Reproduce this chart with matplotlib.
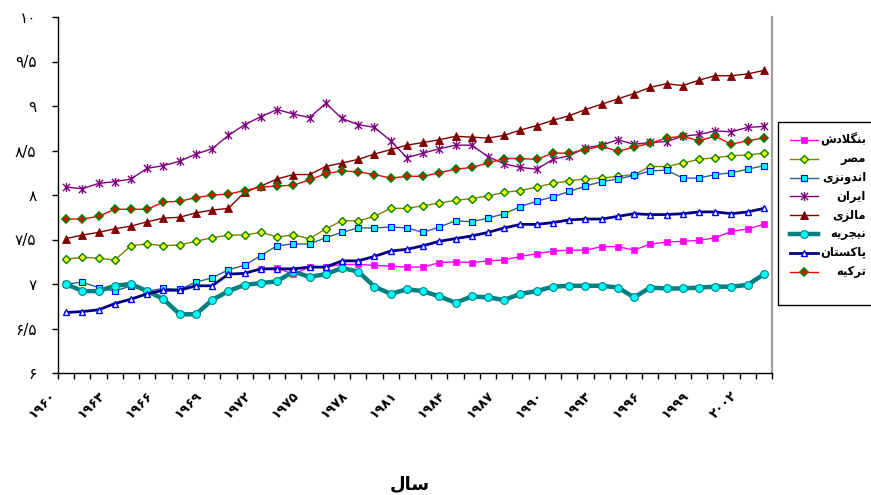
import numpy as np
import matplotlib
matplotlib.use("Agg")
import matplotlib.pyplot as plt
import matplotlib.transforms as mtransforms
from matplotlib.path import Path
from matplotlib.markers import MarkerStyle
from matplotlib.lines import Line2D
from matplotlib.patches import Rectangle
from matplotlib.ticker import FuncFormatter, FixedLocator

# ---------------------------------------------------------------- data
years = list(range(1960, 2004))
label_years = list(range(1960, 2004, 3))

bangladesh = [np.nan] * 12 + [
    7.17, 7.18, 7.11, 7.19, 7.19, 7.22, 7.22, 7.21, 7.20, 7.19,
    7.19, 7.24, 7.25, 7.24, 7.26, 7.27, 7.31, 7.34, 7.37, 7.38,
    7.38, 7.42, 7.42, 7.38, 7.45, 7.47, 7.48, 7.49, 7.52, 7.59,
    7.62, 7.67]
egypt = [
    7.28, 7.30, 7.29, 7.27, 7.43, 7.45, 7.43, 7.44, 7.48, 7.52,
    7.55, 7.55, 7.58, 7.53, 7.55, 7.51, 7.62, 7.71, 7.71, 7.76,
    7.85, 7.85, 7.88, 7.91, 7.94, 7.96, 7.99, 8.03, 8.05, 8.09,
    8.13, 8.16, 8.18, 8.19, 8.21, 8.23, 8.32, 8.32, 8.36, 8.40,
    8.42, 8.44, 8.45, 8.47]
indonesia = [
    7.00, 7.02, 6.96, 6.92, 6.98, 6.92, 6.95, 6.94, 7.02, 7.07,
    7.16, 7.21, 7.32, 7.43, 7.45, 7.45, 7.52, 7.58, 7.63, 7.63,
    7.64, 7.63, 7.58, 7.64, 7.71, 7.70, 7.74, 7.79, 7.87, 7.93,
    7.98, 8.04, 8.10, 8.15, 8.18, 8.22, 8.27, 8.28, 8.19, 8.19,
    8.23, 8.25, 8.29, 8.33]
iran = [
    8.09, 8.07, 8.13, 8.15, 8.18, 8.30, 8.33, 8.38, 8.46, 8.52,
    8.67, 8.79, 8.88, 8.96, 8.91, 8.87, 9.03, 8.86, 8.79, 8.76,
    8.61, 8.42, 8.47, 8.52, 8.56, 8.56, 8.43, 8.35, 8.31, 8.29,
    8.40, 8.44, 8.53, 8.56, 8.62, 8.57, 8.59, 8.60, 8.66, 8.68,
    8.72, 8.71, 8.76, 8.77]
malaysia = [
    7.51, 7.55, 7.58, 7.62, 7.65, 7.70, 7.74, 7.75, 7.80, 7.83,
    7.85, 8.03, 8.10, 8.18, 8.23, 8.23, 8.32, 8.36, 8.40, 8.46,
    8.51, 8.56, 8.59, 8.62, 8.66, 8.65, 8.64, 8.67, 8.73, 8.78,
    8.84, 8.89, 8.96, 9.02, 9.08, 9.14, 9.21, 9.25, 9.23, 9.29,
    9.34, 9.34, 9.36, 9.40]
nigeria = [
    7.00, 6.92, 6.92, 6.98, 7.00, 6.92, 6.83, 6.66, 6.66, 6.82,
    6.92, 6.99, 7.01, 7.03, 7.14, 7.08, 7.11, 7.18, 7.14, 6.97,
    6.89, 6.94, 6.92, 6.86, 6.79, 6.86, 6.85, 6.82, 6.89, 6.92,
    6.97, 6.98, 6.98, 6.98, 6.96, 6.85, 6.96, 6.95, 6.95, 6.96,
    6.97, 6.97, 6.99, 7.11]
pakistan = [
    6.68, 6.69, 6.71, 6.78, 6.83, 6.89, 6.93, 6.93, 6.98, 6.98,
    7.11, 7.12, 7.17, 7.17, 7.17, 7.19, 7.19, 7.26, 7.26, 7.31,
    7.37, 7.39, 7.43, 7.48, 7.51, 7.54, 7.58, 7.63, 7.67, 7.67,
    7.69, 7.72, 7.73, 7.73, 7.76, 7.79, 7.78, 7.78, 7.79, 7.81,
    7.81, 7.79, 7.81, 7.85]
turkey = [
    7.73, 7.73, 7.76, 7.84, 7.84, 7.84, 7.92, 7.93, 7.97, 8.00,
    8.01, 8.05, 8.09, 8.10, 8.11, 8.17, 8.24, 8.27, 8.26, 8.23,
    8.19, 8.21, 8.21, 8.25, 8.29, 8.31, 8.36, 8.41, 8.41, 8.40,
    8.47, 8.47, 8.51, 8.55, 8.49, 8.54, 8.58, 8.64, 8.66, 8.61,
    8.66, 8.57, 8.61, 8.64]

country_names = ["بنگلادش", "مصر", "اندونزی", "ایران",
                 "مالزی", "نیجریه", "پاکستان", "ترکیه"]
x_title = "سال"
y_ticks = [6, 6.5, 7, 7.5, 8, 8.5, 9, 9.5, 10]

# ------------------------------------------------- Persian text helpers
_FORMS = {  # isolated, final, initial, medial
    "ا": ("\uFE8D", "\uFE8E", None, None),
    "ب": ("\uFE8F", "\uFE90", "\uFE91", "\uFE92"),
    "پ": ("\uFB56", "\uFB57", "\uFB58", "\uFB59"),
    "ت": ("\uFE95", "\uFE96", "\uFE97", "\uFE98"),
    "ج": ("\uFE9D", "\uFE9E", "\uFE9F", "\uFEA0"),
    "د": ("\uFEA9", "\uFEAA", None, None),
    "ر": ("\uFEAD", "\uFEAE", None, None),
    "ز": ("\uFEAF", "\uFEB0", None, None),
    "س": ("\uFEB1", "\uFEB2", "\uFEB3", "\uFEB4"),
    "ش": ("\uFEB5", "\uFEB6", "\uFEB7", "\uFEB8"),
    "ص": ("\uFEB9", "\uFEBA", "\uFEBB", "\uFEBC"),
    "ک": ("\uFB8E", "\uFB8F", "\uFB90", "\uFB91"),
    "گ": ("\uFB92", "\uFB93", "\uFB94", "\uFB95"),
    "ل": ("\uFEDD", "\uFEDE", "\uFEDF", "\uFEE0"),
    "م": ("\uFEE1", "\uFEE2", "\uFEE3", "\uFEE4"),
    "ن": ("\uFEE5", "\uFEE6", "\uFEE7", "\uFEE8"),
    "ه": ("\uFEE9", "\uFEEA", "\uFEEB", "\uFEEC"),
    "و": ("\uFEED", "\uFEEE", None, None),
    "ی": ("\uFBFC", "\uFBFD", "\uFBFE", "\uFBFF"),
    "\u0001": ("\uFEFB", "\uFEFC", None, None),  # lam-alef
}


def shape(word):
    """Contextual Persian shaping, returned in visual (left-to-right) order."""
    s = word.replace("لا", "\u0001")
    out = []
    for k, ch in enumerate(s):
        forms = _FORMS.get(ch)
        if forms is None:
            out.append(ch)
            continue
        prev = s[k - 1] if k > 0 else None
        nxt = s[k + 1] if k + 1 < len(s) else None
        join_prev = prev in _FORMS and _FORMS[prev][2] is not None
        join_next = forms[2] is not None and nxt in _FORMS
        if join_prev and join_next:
            out.append(forms[3])
        elif join_prev:
            out.append(forms[1])
        elif join_next:
            out.append(forms[2])
        else:
            out.append(forms[0])
    return "".join(reversed(out))


_DIGITS = str.maketrans("0123456789.", "۰۱۲۳۴۵۶۷۸۹/")


def fa_num(v):
    return ("%g" % v).translate(_DIGITS)


plt.rcParams["font.family"] = ["DejaVu Sans"]

# ---------------------------------------------------------------- figure
W, H = 871, 495
fig = plt.figure(figsize=(W / 100, H / 100), dpi=100)
ax = fig.add_axes([58 / W, 122 / H, 714 / W, 356 / H])

x = np.arange(len(years))

asterisk = Path([(-1, -1), (1, 1), (-1, 1), (1, -1), (0, -1.25), (0, 1.25)],
                [Path.MOVETO, Path.LINETO] * 3)

lines = [
    dict(color="#FF00FF", lw=1.0),
    dict(color="#808000", lw=1.0),
    dict(color="#2A5F8F", lw=1.0),
    dict(color="#800080", lw=1.0),
    dict(color="#800000", lw=1.0),
    dict(color="#008080", lw=3.2),
    dict(color="#000080", lw=2.0),
    dict(color="#FF0000", lw=1.0),
]
marks = [
    dict(marker="s", ms=4.8, mfc="#FF00FF", mec="#FF00FF", mew=0.5),
    dict(marker="D", ms=3.6, mfc="#FFFF00", mec="#008000", mew=1.0),
    dict(marker="s", ms=4.0, mfc="#00FFFF", mec="#0000FF", mew=0.8),
    dict(marker=MarkerStyle(asterisk), ms=6.5, mfc="none", mec="#800080", mew=1.0),
    dict(marker="^", ms=5.2, mfc="#800000", mec="#800000", mew=0.6),
    dict(marker="o", ms=5.6, mfc="#00FFFF", mec="#008080", mew=0.8),
    dict(marker="^", ms=4.6, mfc="white", mec="#0000FF", mew=1.0),
    dict(marker="D", ms=4.0, mfc="#FF0000", mec="#008000", mew=1.2),
]
series = [bangladesh, egypt, indonesia, iran, malaysia, nigeria, pakistan, turkey]

for vals, ln, mk in zip(series, lines, marks):
    ax.plot(x, vals, **ln, **mk, clip_on=False)

# axes, ticks and spines
ax.set_xlim(-0.5, len(years) - 0.5)
ax.set_ylim(6, 10)
ax.spines["top"].set_visible(False)
ax.spines["right"].set_color("#A0A0A0")
ax.spines["right"].set_linewidth(1.6)
for side in ("left", "bottom"):
    ax.spines[side].set_color("black")
    ax.spines[side].set_linewidth(1.0)

ax.yaxis.set_major_locator(FixedLocator(y_ticks))
ax.yaxis.set_major_formatter(FuncFormatter(lambda v, p: fa_num(v)))
ax.tick_params(axis="y", direction="out", length=4, width=1, pad=11.5,
               labelsize=11, colors="black")
ax.xaxis.set_major_locator(FixedLocator(np.arange(-0.5, len(years), 1)))
ax.tick_params(axis="x", direction="out", length=4, width=1, labelbottom=False)

# rotated year labels under the category axis
base = mtransforms.blended_transform_factory(ax.transData, ax.transAxes)
shift = mtransforms.ScaledTranslation(-24 / 100, -32 / 100, fig.dpi_scale_trans)
for yr in label_years:
    ax.text(years.index(yr), 0, fa_num(yr), transform=base + shift,
            rotation=45, rotation_mode="anchor", ha="center", va="center",
            fontsize=9.5, fontweight="bold", clip_on=False)

fig.text(410 / W, 1 - 484 / H, shape(x_title), ha="center", va="center",
         fontsize=13, fontweight="bold")

# legend box on the right
fig.patches.append(Rectangle((778 / W, 1 - 305 / H), 100 / W, 183 / H,
                             transform=fig.transFigure, fill=True,
                             facecolor="white", edgecolor="black", lw=1.0))
for k, (name, ln, mk) in enumerate(zip(country_names, lines, marks)):
    yy = 1 - (140 + 18.8 * k) / H
    fig.lines.append(Line2D([790 / W, 818 / W], [yy, yy],
                            transform=fig.transFigure, **ln))
    fig.lines.append(Line2D([804 / W], [yy], transform=fig.transFigure,
                            linestyle="none", **mk))
    fig.text(866 / W, yy, shape(name), ha="right", va="center",
             fontsize=8.3, fontweight="bold")

fig.savefig("out.png", dpi=100)
